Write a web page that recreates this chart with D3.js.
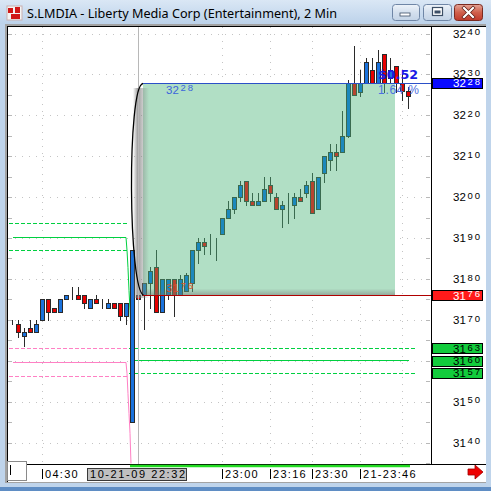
<!DOCTYPE html>
<html><head><meta charset="utf-8">
<script src="https://cdn.jsdelivr.net/npm/d3@7"></script>
<style>body{margin:0;background:#fff}svg{display:block}</style>
</head><body><div id="c"></div>
<script>
// ---------------- DATA ----------------
const times = ["04:20","04:22","04:24","04:26","04:28","04:30","04:32","04:34","04:36","04:38","04:40","04:42","04:44","04:46","04:48","04:50","04:52","04:54","04:56","04:58","05:00",
"22:32","22:34","22:36","22:38","22:40","22:42","22:44","22:46","22:48","22:50","22:52","22:54","22:56","22:58",
"23:00","23:02","23:04","23:06","23:08","23:10","23:12","23:14","23:16","23:18","23:20","23:22","23:24","23:26","23:28","23:30","23:32","23:34","23:36","23:38","23:40","23:42","23:44","23:46","23:48","23:50","23:52","23:54","23:56","23:58","00:00","00:02"];
const opens  = [3169.6,3169,3166,3168,3167,3170,3175,3173,3172,3175,3176,3176,3176,3173,3175,3174,3173,3174,3174,3171,3145,
3176,3176,3179,3183,3172,3176,3180,3176,3177,3179,3187,3189,3188,3190,
3191,3195,3197,3200,3204,3199,3198,3199,3203,3200,3197,3198,3198,3200,3201,3204,3197,3206,3209,3211,3211,3215,3228,3225.7,3228,3231,3228,3235,3229,3232,3228,3226];
const highs  = [3170,3170,3168,3170,3170,3175,3175,3173,3175,3176,3178,3178,3176,3175,3176,3175,3175,3174,3174,3174,3187,
3176,3179,3183,3187,3180,3180,3180,3181,3181.5,3187,3190,3190,3191,3190,
3195,3199,3200,3204,3204,3201,3201,3205,3205,3201,3199,3201,3201,3202,3204,3206,3205,3210,3213,3213,3221,3228.6,3237,3231,3234,3234,3236,3235,3234,3232,3230,3227];
const lows   = [3169,3165.8,3163.5,3167,3167,3170,3170,3172,3172,3175,3175,3175,3173,3173,3174,3173,3173,3173,3170,3169,3145,
3175,3167.8,3173,3172,3172,3175,3171,3176,3177,3177,3184,3186,3186,3184.6,
3191,3195,3196,3199,3198,3198,3198,3199,3199,3197,3192.7,3193.7,3195,3199,3200,3196,3197,3203.7,3206.6,3206.6,3211,3214.7,3225,3224.7,3228,3228,3228,3225.7,3228,3225.7,3223.7,3221.8];
const closes = [3169.6,3167,3167,3167,3169,3175,3172,3172,3175,3176,3176,3175,3174,3175,3174,3174,3174,3173,3171,3174,3187,
3175,3179,3182,3172,3180,3180,3176,3180,3181,3187,3189,3188,3188,3190,
3195,3197,3200,3203,3199,3198,3199,3202,3201,3197,3198,3198,3200,3199,3203,3196,3205,3210,3211,3210,3215,3228,3225,3228,3233,3228,3233,3228,3231,3228,3226,3224.7];

const yTickValues = [3140,3150,3160,3170,3180,3190,3200,3210,3220,3230,3240];
const xTickTimes  = ["04:30","23:00","23:16","23:30","23:46"];
const xTickLabels = ["04:30","23:00","23:16","23:30","21-23:46"];
const xGridTimes  = ["04:30","23:00","23:16","23:30","23:46","00:00"];
const cursorTime  = "22:32";
const cursorLabel = "10-21-09 22:32";

// measurement box (range between two prices)
const boxStartTime = "22:34", boxEndTime = "23:58";
const boxLow = 3176, boxHigh = 3228;
const boxChangeText = "$0.52", boxPctText = "1.64 %";

// price tags on axis
const tagValues = [3228, 3176, 3163, 3160, 3157];
const tagKinds  = ["blue","red","green","green","green"];

// pivot-style levels
const greenDashLeft = [3193.7, 3187.1];
const pinkDashLeft  = [3163.0, 3156.3];
const greenDashRight = [3163, 3157];
const greenSolidIdx = [0.17, 19, 19.17, 19.33, 19.5, 19.67, 19.83, 20, 20.17, 66.17];
const greenSolidVal = [3190.2, 3190.2, 3187.1, 3182.9, 3177.3, 3172.4, 3167.5, 3163.9, 3160.2, 3160.2];
const pinkSolidIdx  = [0.17, 19, 19.17, 19.33, 19.5, 19.67, 19.83];
const pinkSolidVal  = [3159.8, 3159.8, 3157.1, 3152.2, 3147.3, 3142.4, 3135.1];

// ---------------- DRAW ----------------
const W = 491, H = 491;
const svg = d3.select("#c").append("svg").attr("width", W).attr("height", H);
const defs = svg.append("defs");

const plot = {l: 8, t: 27, r: 431, b: 464};

const x = d3.scaleBand().domain(times).range([9, 9 + 6 * times.length]);
const cx = t => x(t) + x.bandwidth() / 2;
const xi = d3.scaleLinear().domain([0, times.length - 1]).range([cx(times[0]), cx(times[times.length - 1])]);
const y = d3.scaleLinear().domain([3140, 3240]).range([442.5, 33.5]);

// window frame
svg.append("rect").attr("width", W).attr("height", H).attr("fill", "#bfd4eb");
const tg = defs.append("linearGradient").attr("id", "tbar").attr("x1", 0).attr("y1", 0).attr("x2", 0).attr("y2", 1);
tg.append("stop").attr("offset", 0).attr("stop-color", "#dae7f5");
tg.append("stop").attr("offset", 1).attr("stop-color", "#bcd2ea");
svg.append("rect").attr("width", W).attr("height", 24).attr("fill", "url(#tbar)");
svg.append("rect").attr("x", 0).attr("y", 487).attr("width", W).attr("height", 4).attr("fill", "#5f8dc4");

// icon
svg.append("rect").attr("x", 7).attr("y", 6).attr("width", 15).attr("height", 14).attr("fill", "#f4f4f4").attr("stroke", "#c9b0b0");
svg.append("rect").attr("x", 8).attr("y", 8).attr("width", 5).attr("height", 5).attr("fill", "#d01818");
svg.append("rect").attr("x", 15).attr("y", 7).attr("width", 5).attr("height", 6).attr("fill", "#d01818");
svg.append("rect").attr("x", 11).attr("y", 14).attr("width", 9).attr("height", 5).attr("fill", "#d01818");

svg.append("text").attr("x", 27).attr("y", 17.5)
  .attr("font-family", "'Noto Sans', 'DejaVu Sans', sans-serif").attr("font-size", 12.5)
  .attr("fill", "#000").attr("textLength", 310).attr("lengthAdjust", "spacingAndGlyphs")
  .text("S.LMDIA - Liberty Media Corp (Entertainment), 2 Min");

// buttons
const bg = defs.append("linearGradient").attr("id", "btn").attr("x1", 0).attr("y1", 0).attr("x2", 0).attr("y2", 1);
bg.append("stop").attr("offset", 0).attr("stop-color", "#eef3f9");
bg.append("stop").attr("offset", 0.5).attr("stop-color", "#d4e0ee");
bg.append("stop").attr("offset", 1).attr("stop-color", "#c3d3e6");
const rg = defs.append("linearGradient").attr("id", "btnr").attr("x1", 0).attr("y1", 0).attr("x2", 0).attr("y2", 1);
rg.append("stop").attr("offset", 0).attr("stop-color", "#e5a597");
rg.append("stop").attr("offset", 0.5).attr("stop-color", "#d0604c");
rg.append("stop").attr("offset", 1).attr("stop-color", "#c0392b");
svg.append("rect").attr("x", 392.5).attr("y", 4.5).attr("width", 27).attr("height", 16).attr("rx", 3)
  .attr("fill", "url(#btn)").attr("stroke", "#6f86a6");
svg.append("rect").attr("x", 400).attr("y", 13).attr("width", 10).attr("height", 3).attr("fill", "#fff").attr("stroke", "#3d4f66").attr("stroke-width", 0.8);
svg.append("rect").attr("x", 423.5).attr("y", 4.5).attr("width", 28).attr("height", 16).attr("rx", 3)
  .attr("fill", "url(#btn)").attr("stroke", "#6f86a6");
svg.append("rect").attr("x", 432.5).attr("y", 7.5).attr("width", 10).attr("height", 8).attr("fill", "#fff").attr("stroke", "#3d4f66").attr("stroke-width", 1.2);
svg.append("rect").attr("x", 434.5).attr("y", 10.5).attr("width", 6).attr("height", 3).attr("fill", "#3d4f66");
svg.append("rect").attr("x", 454.5).attr("y", 4.5).attr("width", 28).attr("height", 16).attr("rx", 3)
  .attr("fill", "url(#btnr)").attr("stroke", "#7a2a20");
svg.append("path").attr("d", "M464,8 L473,17 M473,8 L464,17").attr("stroke", "#5a1a12").attr("stroke-width", 3.6).attr("stroke-linecap", "square");
svg.append("path").attr("d", "M464,8 L473,17 M473,8 L464,17").attr("stroke", "#fff").attr("stroke-width", 2.2).attr("stroke-linecap", "square");

// chart panel
svg.append("rect").attr("x", 5).attr("y", 24).attr("width", 481).attr("height", 459).attr("fill", "#a3a3a3");
svg.append("rect").attr("x", 7).attr("y", 26).attr("width", 479).attr("height", 456).attr("fill", "#fff");
svg.append("line").attr("x1", 7.5).attr("x2", 7.5).attr("y1", 26).attr("y2", 482).attr("stroke", "#000");
svg.append("line").attr("x1", 7).attr("x2", 486).attr("y1", 26.5).attr("y2", 26.5).attr("stroke", "#000");

const gp = svg.append("g").attr("shape-rendering", "crispEdges");
defs.append("clipPath").attr("id", "plotclip").append("rect")
  .attr("x", plot.l).attr("y", plot.t).attr("width", plot.r - plot.l).attr("height", plot.b - plot.t);
const g = gp.append("g").attr("clip-path", "url(#plotclip)");

// grid
g.selectAll(".hg").data(yTickValues).join("line")
  .attr("x1", plot.l).attr("x2", plot.r).attr("y1", d => Math.round(y(d)) + 0.5).attr("y2", d => Math.round(y(d)) + 0.5)
  .attr("stroke", "#c4c4c4").attr("stroke-dasharray", "1,6");
g.selectAll(".vg").data(xGridTimes).join("line")
  .attr("x1", d => cx(d) + 0.5).attr("x2", d => cx(d) + 0.5).attr("y1", plot.t).attr("y2", plot.b)
  .attr("stroke", "#c4c4c4").attr("stroke-dasharray", "1,6");
const minor = d3.range(3135, 3246, 5);
g.selectAll(".ml").data(minor).join("line")
  .attr("x1", plot.l).attr("x2", plot.l + 4).attr("y1", d => Math.round(y(d)) + 0.5).attr("y2", d => Math.round(y(d)) + 0.5)
  .attr("stroke", "#b8b8b8");
g.selectAll(".mr").data(minor).join("line")
  .attr("x1", plot.r - 5).attr("x2", plot.r - 1).attr("y1", d => Math.round(y(d)) + 0.5).attr("y2", d => Math.round(y(d)) + 0.5)
  .attr("stroke", "#b8b8b8");

// levels
const GREEN = "#00d040", PINK = "#ff80c4";
g.selectAll(".gdl").data(greenDashLeft).join("line")
  .attr("x1", xi(-0.5)).attr("x2", xi(19.33)).attr("y1", d => Math.round(y(d)) + 0.5).attr("y2", d => Math.round(y(d)) + 0.5)
  .attr("stroke", GREEN).attr("stroke-dasharray", "4,2");
g.selectAll(".pdl").data(pinkDashLeft).join("line")
  .attr("x1", xi(-0.5)).attr("x2", xi(19.33)).attr("y1", d => Math.round(y(d)) + 0.5).attr("y2", d => Math.round(y(d)) + 0.5)
  .attr("stroke", PINK).attr("stroke-dasharray", "4,2");
g.selectAll(".gdr").data(greenDashRight).join("line")
  .attr("x1", xi(19.5)).attr("x2", xi(67.33)).attr("y1", d => Math.round(y(d)) + 0.5).attr("y2", d => Math.round(y(d)) + 0.5)
  .attr("stroke", GREEN).attr("stroke-dasharray", "4,2");
const lineGen = d3.line().x(d => xi(d[0])).y(d => Math.round(y(d[1])) + 0.5);
g.append("path").attr("d", lineGen(greenSolidIdx.map((d, i) => [d, greenSolidVal[i]])))
  .attr("fill", "none").attr("stroke", GREEN).attr("shape-rendering", "auto");
g.append("path").attr("d", lineGen(pinkSolidIdx.map((d, i) => [d, pinkSolidVal[i]])))
  .attr("fill", "none").attr("stroke", PINK).attr("shape-rendering", "auto");

// candles
const bars = times.map((t, i) => ({t, o: opens[i], h: highs[i], l: lows[i], c: closes[i]}));
function drawCandles(parent, up, down, edge) {
  const cg = parent.append("g");
  cg.selectAll(".w").data(bars).join("line")
    .attr("x1", d => cx(d.t) + 0.5).attr("x2", d => cx(d.t) + 0.5)
    .attr("y1", d => Math.round(y(d.h))).attr("y2", d => Math.round(y(d.l)) + 1)
    .attr("stroke", edge);
  cg.selectAll(".b").data(bars).join("rect")
    .attr("x", d => cx(d.t) - 1.5)
    .attr("y", d => Math.round(y(Math.max(d.o, d.c))) + 0.5)
    .attr("width", 4)
    .attr("height", d => Math.max(0, Math.round(y(Math.min(d.o, d.c))) - Math.round(y(Math.max(d.o, d.c)))))
    .attr("fill", d => d.c >= d.o ? up : down)
    .attr("stroke", edge);
}
drawCandles(g, "#1a72dc", "#e80000", "#2a2a2a");

// measurement box
const bx0 = x(boxStartTime) + 2, bx1 = x(boxEndTime) + 2;
const yTop = Math.round(y(boxHigh)) + 0.5, yBot = Math.round(y(boxLow)) + 0.5;
g.append("rect").attr("x", bx0).attr("y", yTop).attr("width", bx1 - bx0).attr("height", yBot - yTop).attr("fill", "#b1dfc5");
defs.append("clipPath").attr("id", "boxclip").append("rect")
  .attr("x", bx0).attr("y", yTop).attr("width", bx1 - bx0).attr("height", yBot - yTop);
const inner = g.append("g").attr("clip-path", "url(#boxclip)");
drawCandles(inner, "#1c88bc", "#b5452f", "#3a6a4f");

// shadows
const sl = defs.append("linearGradient").attr("id", "shl").attr("x1", 0).attr("y1", 0).attr("x2", 1).attr("y2", 0);
sl.append("stop").attr("offset", 0).attr("stop-color", "#808080").attr("stop-opacity", 0);
sl.append("stop").attr("offset", 0.3).attr("stop-color", "#808080").attr("stop-opacity", 0.75);
sl.append("stop").attr("offset", 1).attr("stop-color", "#808080").attr("stop-opacity", 0);
g.append("rect").attr("x", bx0 - 10).attr("y", yTop + 4).attr("width", 16).attr("height", yBot - yTop - 2).attr("fill", "url(#shl)");
const sb = defs.append("linearGradient").attr("id", "shb").attr("x1", 0).attr("y1", 0).attr("x2", 0).attr("y2", 1);
sb.append("stop").attr("offset", 0).attr("stop-color", "#707070").attr("stop-opacity", 0);
sb.append("stop").attr("offset", 1).attr("stop-color", "#707070").attr("stop-opacity", 0.5);
g.append("rect").attr("x", bx0).attr("y", yBot - 7).attr("width", bx1 - bx0).attr("height", 7).attr("fill", "url(#shb)");

// cursor line
g.append("line").attr("x1", cx(cursorTime) + 0.5).attr("x2", cx(cursorTime) + 0.5).attr("y1", plot.t).attr("y2", plot.b)
  .attr("stroke", "#b8b8b8").attr("stroke-width", 1);

// bracket curve
g.append("path").attr("shape-rendering", "auto")
  .attr("d", `M${bx0},${yTop} C${bx0 - 16},${yTop + 2} ${bx0 - 15},${yBot - 4} ${bx0 + 1},${yBot}`)
  .attr("fill", "none").attr("stroke", "#000").attr("stroke-width", 1.3);

// box edges
g.append("line").attr("x1", bx0).attr("x2", plot.r).attr("y1", yTop).attr("y2", yTop).attr("stroke", "#2b50c8");
g.append("line").attr("x1", bx0).attr("x2", plot.r).attr("y1", yBot).attr("y2", yBot).attr("stroke", "#b00000");

// price text with raised last two digits
function supText(parent, xx, yy, v, color) {
  const s = String(v);
  const t = parent.append("text").attr("x", xx).attr("y", yy)
    .attr("font-family", "'Liberation Sans', Arial, sans-serif").attr("fill", color);
  t.append("tspan").attr("font-size", 11.5).attr("letter-spacing", 0.2).text(s.slice(0, 2));
  t.append("tspan").attr("font-size", 9.5).attr("dx", 1.2).attr("dy", -2.3).attr("letter-spacing", 2).text(s.slice(2));
  return t;
}
supText(svg, bx0 + 23, yTop + 10, boxHigh, "#3c64dc");
supText(svg, bx0 + 23, yBot - 4, boxLow, "#d5502e");

svg.append("text").attr("x", 378).attr("y", 78.5)
  .attr("font-family", "'DejaVu Sans', sans-serif").attr("font-weight", "bold").attr("font-size", 13)
  .attr("fill", "#1a1ae6").attr("textLength", 40).attr("lengthAdjust", "spacingAndGlyphs").text(boxChangeText);
svg.append("text").attr("x", 378).attr("y", 93.5)
  .attr("font-family", "'Liberation Sans', Arial, sans-serif").attr("font-size", 12)
  .attr("fill", "#4c6fe0").attr("textLength", 41).attr("lengthAdjust", "spacing").text(boxPctText);

// right axis
svg.append("line").attr("x1", plot.r + 0.5).attr("x2", plot.r + 0.5).attr("y1", 26).attr("y2", plot.b)
  .attr("stroke", "#000");
svg.append("line").attr("x1", 27).attr("x2", 486).attr("y1", plot.b + 0.5).attr("y2", plot.b + 0.5).attr("stroke", "#000");
// labels fully covered by a price tag are not drawn
yTickValues.filter(v => !tagValues.some(tv => Math.abs(y(tv) - y(v)) < 4))
  .forEach(v => supText(svg, 453, y(v) + 4, v, "#000"));

const tagFill = {blue: "#0a0aff", red: "#ff1a1a", green: "#12cc3c"};
const tagText = {blue: "#fff", red: "#fff", green: "#000"};
tagValues.forEach((v, i) => {
  const k = tagKinds[i];
  svg.append("rect").attr("x", 432.5).attr("y", Math.round(y(v)) - 4.5).attr("width", 50).attr("height", 10)
    .attr("fill", tagFill[k]).attr("stroke", "#000").attr("shape-rendering", "crispEdges");
  supText(svg, 453, y(v) + 4.5, v, tagText[k]);
});

// bottom strip
svg.append("rect").attr("x", 7.5).attr("y", 461.5).attr("width", 19).attr("height", 19).attr("fill", "#fff").attr("stroke", "#8a8a8a");
svg.append("line").attr("x1", 10.5).attr("x2", 10.5).attr("y1", 465).attr("y2", 475).attr("stroke", "#000");
svg.append("line").attr("x1", cx("05:00") - 2).attr("x2", cx("23:58") + 14).attr("y1", 466).attr("y2", 466)
  .attr("stroke", "#22dd22").attr("stroke-width", 2.5);

const ax = svg.append("g").attr("font-family", "'Liberation Sans', Arial, sans-serif").attr("font-size", 11);
xTickTimes.forEach((t, i) => {
  ax.append("line").attr("x1", cx(t) + 0.5).attr("x2", cx(t) + 0.5).attr("y1", 469).attr("y2", 479)
    .attr("stroke", "#000").attr("shape-rendering", "crispEdges");
  ax.append("text").attr("x", cx(t) + 3).attr("y", 477.5).attr("letter-spacing", 1.3).text(xTickLabels[i]);
});
const cxc = cx(cursorTime);
ax.append("rect").attr("x", cxc - 50.5).attr("y", 468.5).attr("width", 99).attr("height", 12)
  .attr("fill", "#c0c0c0").attr("stroke", "#3a3a3a").attr("shape-rendering", "crispEdges");
ax.append("text").attr("x", cxc - 48).attr("y", 477.5).attr("textLength", 95).attr("lengthAdjust", "spacing").text(cursorLabel);

// red arrow
svg.append("path").attr("d", "M468,469 L475,469 L475,465 L483,472 L475,479 L475,475 L468,475 Z")
  .attr("fill", "#ee0000").attr("stroke", "#a00000").attr("stroke-width", 0.8);
</script>
</body></html>
